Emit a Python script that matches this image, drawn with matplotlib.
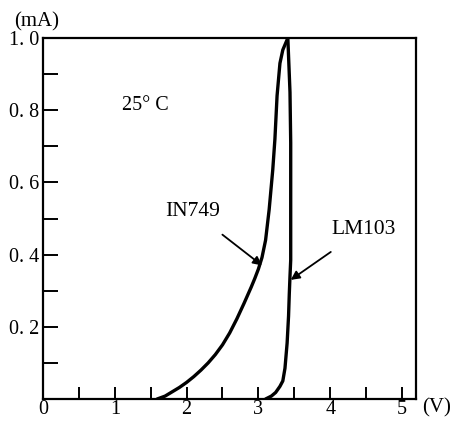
import matplotlib
matplotlib.use("Agg")
import matplotlib.pyplot as plt
from matplotlib.ticker import MultipleLocator, FixedLocator

plt.rcParams['font.family'] = ['Liberation Serif', 'DejaVu Serif']

# IN749 zener curve (V, mA)
in749_v = [1.59, 1.70, 1.80, 1.90, 2.00, 2.10, 2.20, 2.30, 2.40, 2.50, 2.60, 2.70,
           2.80, 2.90, 2.95, 3.00, 3.05, 3.10, 3.15, 3.20, 3.23, 3.26, 3.30, 3.34, 3.41]
in749_i = [0.0, 0.008, 0.02, 0.032, 0.046, 0.062, 0.08, 0.10, 0.123, 0.15, 0.183, 0.222,
           0.265, 0.31, 0.334, 0.36, 0.392, 0.44, 0.525, 0.635, 0.72, 0.84, 0.93, 0.967, 1.0]

# LM103 curve
lm103_v = [3.10, 3.18, 3.24, 3.30, 3.34, 3.37, 3.40, 3.42, 3.43, 3.44, 3.45,
           3.45, 3.44, 3.42, 3.41]
lm103_i = [0.0, 0.008, 0.018, 0.035, 0.05, 0.085, 0.155, 0.23, 0.29, 0.34, 0.385,
           0.71, 0.85, 0.95, 1.0]

x_ticks = [0, 1, 2, 3, 4, 5]
y_ticks = [0.2, 0.4, 0.6, 0.8, 1.0]
y_labels = ["0. 2", "0. 4", "0. 6", "0. 8", "1. 0"]

fig = plt.figure(figsize=(4.57, 4.21), dpi=100)
ax = fig.add_axes([43 / 457, 1 - 399 / 421, 373 / 457, 361 / 421])

ax.plot(in749_v, in749_i, color='black', lw=2.4, solid_capstyle='round',
        solid_joinstyle='round')
ax.plot(lm103_v, lm103_i, color='black', lw=2.4, solid_capstyle='round',
        solid_joinstyle='round')

ax.set_xlim(0, 5.195)
ax.set_ylim(0, 1.0)

for s in ax.spines.values():
    s.set_linewidth(1.6)

ax.xaxis.set_major_locator(FixedLocator(x_ticks))
ax.xaxis.set_minor_locator(MultipleLocator(0.5))
ax.yaxis.set_major_locator(FixedLocator(y_ticks))
ax.yaxis.set_minor_locator(MultipleLocator(0.1))
ax.set_yticklabels(y_labels)
ax.set_xticklabels([str(t) for t in x_ticks])

ax.tick_params(axis='x', which='both', direction='in', length=9, width=1.4,
               labelsize=14.5, pad=1)
ax.tick_params(axis='y', which='both', direction='in', length=11, width=1.4,
               labelsize=14.5, pad=3)

ax.text(1.42, 0.814, "25° C", fontsize=14.5, ha='center', va='center')

ax.annotate("IN749", xy=(3.05, 0.37), xytext=(2.08, 0.52), fontsize=15.5,
            ha='center', va='center',
            arrowprops=dict(arrowstyle='-|>', color='black', lw=1.3,
                            mutation_scale=13, shrinkA=13, shrinkB=0))
ax.annotate("LM103", xy=(3.45, 0.33), xytext=(4.46, 0.47), fontsize=15.5,
            ha='center', va='center',
            arrowprops=dict(arrowstyle='-|>', color='black', lw=1.3,
                            mutation_scale=13, shrinkA=13, shrinkB=0))

fig.text(37 / 457, 1 - 22 / 421, "(mA)", fontsize=15, ha='center', va='center')
fig.text(437 / 457, 1 - 408 / 421, "(V)", fontsize=15, ha='center', va='center')

fig.savefig("out.png", dpi=100)
